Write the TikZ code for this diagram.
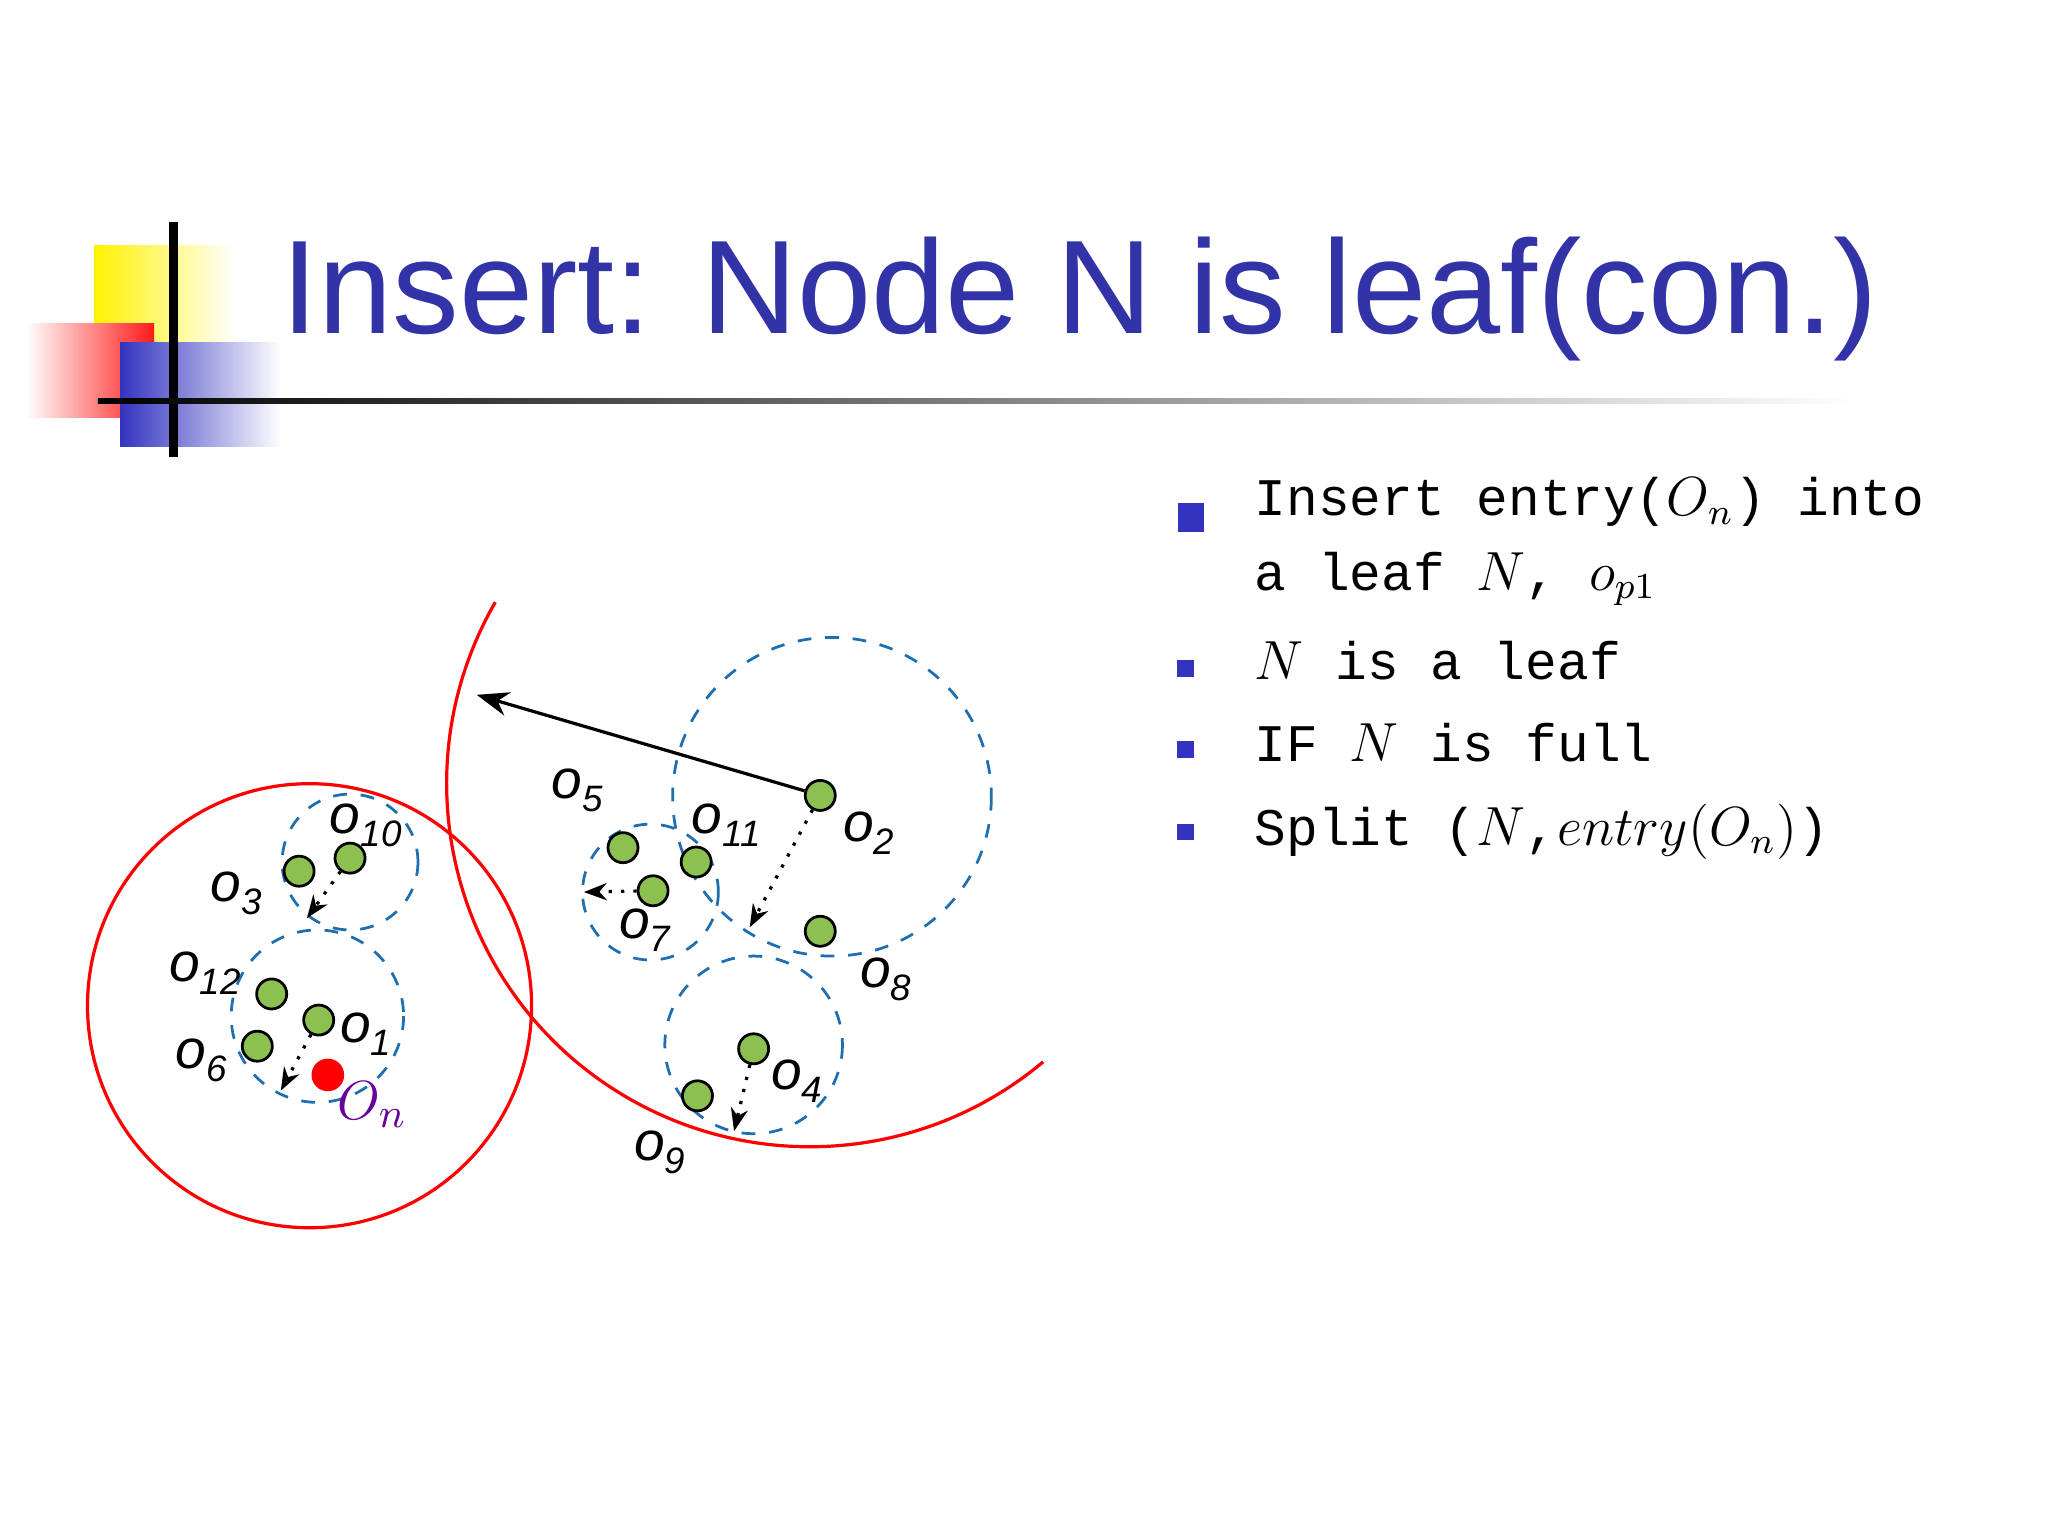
\documentclass[tikz,border=0pt]{standalone}
\usepackage{fontspec}
\setmainfont{Liberation Sans}
\setmonofont{Liberation Mono}
\usetikzlibrary{arrows.meta}
\definecolor{ttl}{HTML}{3333A8}
\definecolor{dblue}{HTML}{1F6FB0}
\definecolor{gpt}{HTML}{8CC152}
\definecolor{bul}{HTML}{3333C0}
\newcommand\olab[1]{\textit{o}\raisebox{-0.45ex}{\footnotesize\textit{#1}}}
\tikzset{
 pt/.style={circle,draw=black,fill=gpt,minimum size=0.23cm,inner sep=0pt,line width=0.6pt},
 dcirc/.style={draw=dblue,dashed,line width=0.6pt},
 rcirc/.style={draw=red,line width=0.7pt},
 dotarr/.style={dotted,line width=0.7pt,-{Stealth[length=5pt]}},
 lab/.style={font=\fontsize{12}{12}\selectfont,inner sep=0pt},
 btxt/.style={font=\ttfamily\fontsize{11.5}{12}\selectfont,anchor=base west,inner sep=0pt},
 bsq/.style={fill=bul,minimum size=0.13cm,inner sep=0pt}
}
\begin{document}
\begin{tikzpicture}[x=0.01cm,y=-0.01cm]
\useasboundingbox (0,0) rectangle (1568,1176);
% decoration
\shade[left color=yellow!90!orange,right color=white] (72,188) rectangle (180,262);
\shade[left color=white,right color=red!90] (20,248) rectangle (118,320);
\shade[left color=bul,right color=white] (92,262) rectangle (215,342);
\draw[line width=2pt] (133,170) -- (133,350);
\shade[left color=black,right color=white] (75,305) rectangle (1420,309);
\node[anchor=base west,text=ttl,font=\fontsize{29}{29}\selectfont,inner sep=0pt] (title) at (215,255) {Insert: Node N is leaf(con.)};
% bullets
\node[fill=bul,minimum width=0.2cm,minimum height=0.22cm,inner sep=0pt] (b1) at (912,396) {};
\node[btxt] (t1) at (960,395) {Insert entry($O_n$) into};
\node[btxt] (t1b) at (960,452) {a leaf $N$, $o_{p1}$};
\node[bsq] (b2) at (908,512) {};
\node[btxt] (t2) at (960,520) {$N$ is a leaf};
\node[bsq] (b3) at (908,574) {};
\node[btxt] (t3) at (960,583) {IF $N$ is full};
\node[bsq] (b4) at (908,637) {};
\node[btxt] (t4) at (960,647) {Split ($N$,$entry(O_n)$)};
% circles
\draw[rcirc] (237,770) circle (170);
\draw[rcirc] (620,600) ++(210:278) arc (210:50:278);
\draw[dcirc] (637,610) circle (122);
\draw[dcirc] (498,683) circle (52);
\draw[dcirc] (577,800) circle (68);
\draw[dcirc] (268,660) circle (52);
\draw[dcirc] (243,778) circle (66);
% points
\node[pt] (p10) at (268,657) {};
\node[pt] (p3) at (229,667) {};
\node[pt] (p12) at (208,761) {};
\node[pt] (p1) at (244,781) {};
\node[pt] (p6) at (197,801) {};
\node[pt] (p5) at (477,649) {};
\node[pt] (p11) at (533,660) {};
\node[pt] (p7) at (500,682) {};
\node[pt] (p2) at (628,609) {};
\node[pt] (p8) at (628,713) {};
\node[pt] (p4) at (577,803) {};
\node[pt] (p9) at (534,839) {};
\node[circle,fill=red,minimum size=0.25cm,inner sep=0pt] (pn) at (251,823) {};
% arrows
\coordinate (e2) at (365,532);
\coordinate (d2) at (574,710);
\coordinate (d7) at (447,683);
\coordinate (d10) at (235,703);
\coordinate (d1) at (215,835);
\coordinate (d4) at (562,866);
\draw[line width=0.7pt,-{Stealth[length=7pt]}] (p2) -- (e2);
\draw[dotarr] (p2) -- (d2);
\draw[dotarr] (p7) -- (d7);
\draw[dotarr] (p10) -- (d10);
\draw[dotarr] (p1) -- (d1);
\draw[dotarr] (p4) -- (d4);
% labels
\node[lab] (l10) at (280,632) {\olab{10}};
\node[lab] (l3) at (181,684) {\olab{3}};
\node[lab] (l12) at (157,745) {\olab{12}};
\node[lab] (l1) at (280,792) {\olab{1}};
\node[lab] (l6) at (154,812) {\olab{6}};
\node[lab,text=violet!80!blue,font=\fontsize{13}{13}\selectfont] (ln) at (285,846) {$O_n$};
\node[lab] (l5) at (442,605) {\olab{5}};
\node[lab] (l11) at (556,632) {\olab{11}};
\node[lab] (l7) at (494,712) {\olab{7}};
\node[lab] (l2) at (665,638) {\olab{2}};
\node[lab] (l8) at (678,750) {\olab{8}};
\node[lab] (l4) at (610,828) {\olab{4}};
\node[lab] (l9) at (505,882) {\olab{9}};
\end{tikzpicture}
\end{document}
